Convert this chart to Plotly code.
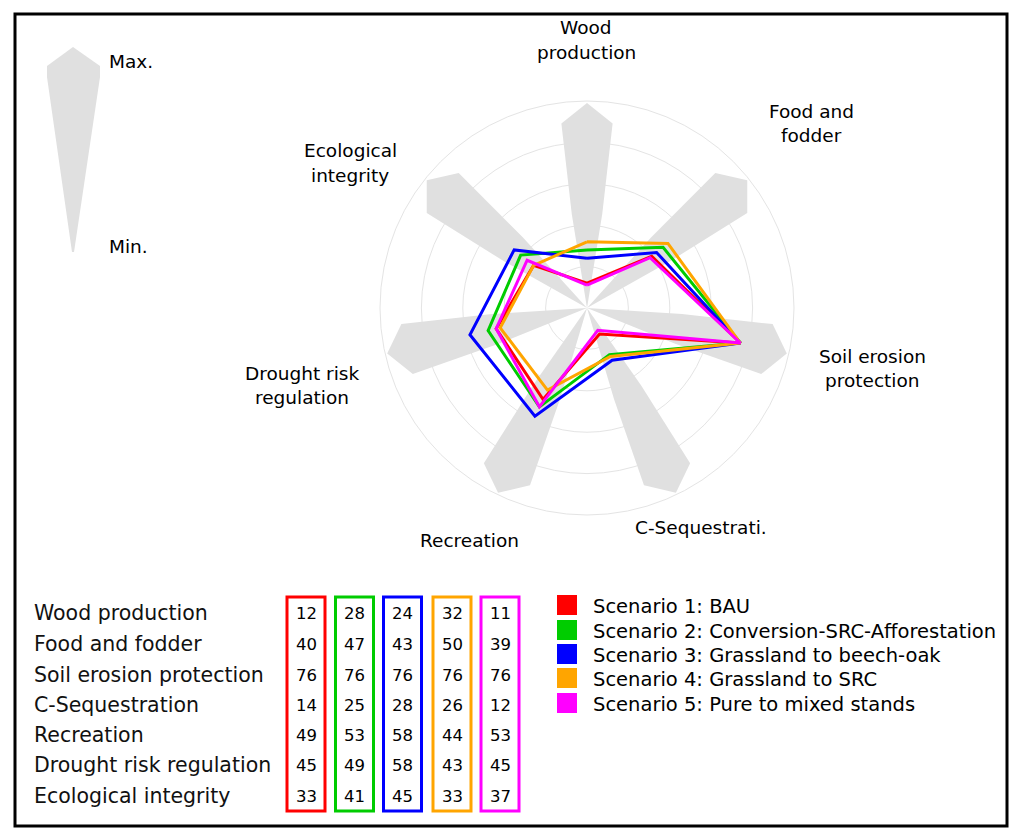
import plotly.graph_objects as go

# ---------------- data ----------------
indicators = ["Wood production", "Food and fodder", "Soil erosion protection",
              "C-Sequestration", "Recreation", "Drought risk regulation",
              "Ecological integrity"]
axis_labels = ["Wood\nproduction", "Food and\nfodder", "Soil erosion\nprotection",
               "C-Sequestrati.", "Recreation", "Drought risk\nregulation",
               "Ecological\nintegrity"]
scenario_names = ["Scenario 1: BAU",
                  "Scenario 2: Conversion-SRC-Afforestation",
                  "Scenario 3: Grassland to beech-oak",
                  "Scenario 4: Grassland to SRC",
                  "Scenario 5: Pure to mixed stands"]
s1 = [12, 40, 76, 14, 49, 45, 33]
s2 = [28, 47, 76, 25, 53, 49, 41]
s3 = [24, 43, 76, 28, 58, 58, 45]
s4 = [32, 50, 76, 26, 44, 43, 33]
s5 = [11, 39, 76, 12, 53, 45, 37]
scenarios = [s1, s2, s3, s4, s5]
radial_ticks = [20, 40, 60, 80, 100]

# ---------------- style ----------------
W, H = 1024, 839
colors = ["#ff0000", "#00cc00", "#0000ff", "#ffa500", "#ff00ff"]
PETAL = "#e0e0e0"
GRID = "#e4e4e4"
CX, CY, R = 587, 308, 207
FONT = "DejaVu Sans"
LABEL_SIZE = 18.5
LEGEND_SIZE = 19.5
TABLE_SIZE = 20.5
NUM_SIZE = 16.5


def px(x):
    return x / W


def py(y):
    return 1 - y / H


n = len(indicators)
angles = [i * 360 / n for i in range(n)]

fig = go.Figure()

# gray "max" petals behind each axis
petal_r = [0, 46, 90, 99, 90, 46, 0]
petal_off = [0, -9.2, -7.9, 0, 7.9, 9.2, 0]
for a in angles:
    fig.add_trace(go.Scatterpolar(
        r=petal_r, theta=[a + o for o in petal_off], mode="lines",
        fill="toself", fillcolor=PETAL, line=dict(color=PETAL, width=0),
        hoverinfo="skip", showlegend=False))

# scenario lines
for vals, c, name in zip(scenarios, colors, scenario_names):
    fig.add_trace(go.Scatterpolar(
        r=vals + vals[:1], theta=angles + angles[:1], mode="lines",
        line=dict(color=c, width=3), name=name, showlegend=False))

fig.update_layout(
    width=W, height=H, margin=dict(l=0, r=0, t=0, b=0),
    paper_bgcolor="white", plot_bgcolor="white",
    polar=dict(
        domain=dict(x=[px(CX - R), px(CX + R)], y=[py(CY + R), py(CY - R)]),
        bgcolor="rgba(0,0,0,0)",
        radialaxis=dict(range=[0, 100], tickvals=radial_ticks, showticklabels=False,
                        ticks="", showline=False, gridcolor=GRID, gridwidth=1),
        angularaxis=dict(rotation=90, direction="clockwise", thetaunit="degrees",
                         showticklabels=False, ticks="", showgrid=False,
                         showline=True, linecolor=GRID, linewidth=1),
    ),
    showlegend=False,
)

annotations = []
shapes = []

# axis labels around the radar
label_pos = [(586, 28), (811, 111), (872, 356), (701, 527), (469, 540),
             (302, 373), (350, 151)]
for lab, (x, y) in zip(axis_labels, label_pos):
    for k, line in enumerate(lab.split("\n")):
        annotations.append(dict(x=px(x), y=py(y + 24.5 * k), xref="paper", yref="paper",
                                text=line, showarrow=False, xanchor="center",
                                yanchor="middle",
                                font=dict(family=FONT, size=LABEL_SIZE, color="#000")))

# Max / Min icon
pts = [(73, 47), (100, 66), (100, 77), (74, 252), (72, 252), (47, 77), (47, 66)]
path = "M " + " L ".join(f"{px(x)},{py(y)}" for x, y in pts) + " Z"
shapes.append(dict(type="path", path=path, xref="paper", yref="paper",
                   fillcolor=PETAL, line=dict(width=0), layer="below"))
annotations.append(dict(x=px(107), y=py(61), xref="paper", yref="paper", text="Max.",
                        showarrow=False, xanchor="left", yanchor="middle",
                        font=dict(family=FONT, size=LABEL_SIZE, color="#000")))
annotations.append(dict(x=px(107), y=py(246), xref="paper", yref="paper", text="Min.",
                        showarrow=False, xanchor="left", yanchor="middle",
                        font=dict(family=FONT, size=LABEL_SIZE, color="#000")))

# table
row_y = [613, 644, 675, 705, 735, 765, 796]
col_x = [306, 354.5, 402.5, 452, 500]
box_w = 38
for name, y in zip(indicators, row_y):
    annotations.append(dict(x=px(32), y=py(y), xref="paper", yref="paper", text=name,
                            showarrow=False, xanchor="left", yanchor="middle",
                            font=dict(family=FONT, size=TABLE_SIZE, color="#111")))
for j, (vals, c) in enumerate(zip(scenarios, colors)):
    cx = col_x[j]
    shapes.append(dict(type="rect", xref="paper", yref="paper",
                       x0=px(cx - box_w / 2), x1=px(cx + box_w / 2),
                       y0=py(811), y1=py(597), line=dict(color=c, width=3)))
    for v, y in zip(vals, row_y):
        annotations.append(dict(x=px(cx), y=py(y), xref="paper", yref="paper",
                                text=str(v), showarrow=False, xanchor="center",
                                yanchor="middle",
                                font=dict(family=FONT, size=NUM_SIZE, color="#000")))

# legend
leg_y = [605, 630, 654, 678, 703]
for name, c, y in zip(scenario_names, colors, leg_y):
    shapes.append(dict(type="rect", xref="paper", yref="paper",
                       x0=px(557), x1=px(577), y0=py(y + 10), y1=py(y - 10),
                       fillcolor=c, line=dict(width=0)))
    annotations.append(dict(x=px(591), y=py(y + 1), xref="paper", yref="paper", text=name,
                            showarrow=False, xanchor="left", yanchor="middle",
                            font=dict(family=FONT, size=LEGEND_SIZE, color="#000")))

# outer frame
shapes.append(dict(type="rect", xref="paper", yref="paper",
                   x0=px(15), x1=px(1007), y0=py(826), y1=py(14),
                   line=dict(color="#000", width=3)))

fig.update_layout(annotations=annotations, shapes=shapes)
fig.write_html("out.html", config={"displayModeBar": False},
               post_script="document.body.style.margin='0';"
                           "document.body.style.overflow='hidden';")
